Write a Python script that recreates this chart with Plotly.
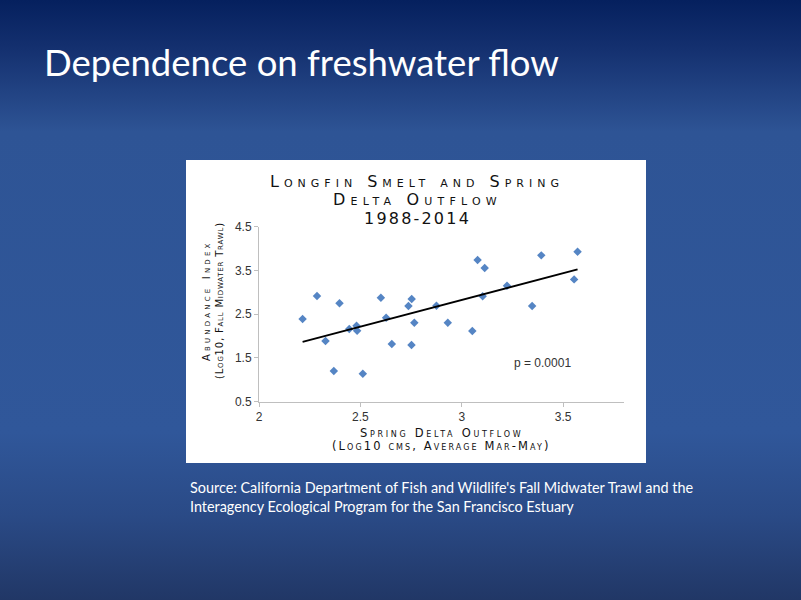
import base64
import numpy as np
import plotly.graph_objects as go

# spring delta outflow (log10 cms, mar-may) vs longfin smelt abundance (log10 FMWT), 1988-2014
outflow = [2.215, 2.286, 2.328, 2.369, 2.397, 2.445, 2.481, 2.484, 2.512, 2.601,
           2.627, 2.655, 2.737, 2.753, 2.752, 2.766, 2.875, 2.931, 3.052, 3.078,
           3.113, 3.103, 3.223, 3.347, 3.392, 3.554, 3.571]
abundance = [2.39, 2.915, 1.887, 1.20, 2.75, 2.161, 2.237, 2.123, 1.14, 2.877,
             2.42, 1.818, 2.687, 2.847, 1.795, 2.306, 2.694, 2.306, 2.115, 3.738,
             3.555, 2.908, 3.151, 2.687, 3.845, 3.296, 3.929]

x_ticks = [2, 2.5, 3, 3.5]
y_ticks = [0.5, 1.5, 2.5, 3.5, 4.5]

W, H = 801, 600


def px(v):
    return v / W


def py(v):
    return 1 - v / H


# linear trendline like the excel one
slope, intercept = np.polyfit(outflow, abundance, 1)
trend_x = [min(outflow), max(outflow)]
trend_y = [slope * v + intercept for v in trend_x]

# slide background gradient as an svg image
stops = [(0, "#05205e"), (0.08, "#14306f"), (0.22, "#2e5495"), (0.72, "#30579a"),
         (0.86, "#2a4a86"), (1, "#213766")]
stop_txt = "".join(f'<stop offset="{o}" stop-color="{c}"/>' for o, c in stops)
svg = (f'<svg xmlns="http://www.w3.org/2000/svg" width="{W}" height="{H}">'
       f'<defs><linearGradient id="g" x1="0" y1="0" x2="0" y2="1">{stop_txt}</linearGradient></defs>'
       f'<rect width="{W}" height="{H}" fill="url(#g)"/></svg>')
bg_src = "data:image/svg+xml;base64," + base64.b64encode(svg.encode()).decode()

fig = go.Figure()
fig.add_trace(go.Scatter(x=outflow, y=abundance, mode="markers",
                         marker=dict(symbol="diamond", size=6.5, color="#5585c4"),
                         hoverinfo="x+y"))
fig.add_trace(go.Scatter(x=trend_x, y=trend_y, mode="lines",
                         line=dict(color="black", width=2), hoverinfo="skip"))

axis_common = dict(showline=True, linecolor="#bfbfbf", linewidth=1, ticks="outside",
                   ticklen=4, tickcolor="#bfbfbf", showgrid=False, zeroline=False,
                   automargin=False,
                   tickfont=dict(family="Liberation Sans", size=12, color="#333333"))

fig.update_layout(
    width=W, height=H,
    margin=dict(l=0, r=0, t=0, b=0),
    paper_bgcolor="#2e5495",
    plot_bgcolor="rgba(0,0,0,0)",
    showlegend=False,
    xaxis=dict(range=[2, 3.8], tickvals=x_ticks, domain=[px(259), px(624)], **axis_common),
    yaxis=dict(range=[0.5, 4.5], tickvals=y_ticks, domain=[py(401.7), py(226.7)], **axis_common),
    images=[dict(source=bg_src, xref="paper", yref="paper", x=0, y=1, sizex=1, sizey=1,
                 xanchor="left", yanchor="top", sizing="stretch", layer="below")],
    shapes=[dict(type="rect", xref="paper", yref="paper", x0=px(186), x1=px(646),
                 y0=py(463), y1=py(160), fillcolor="white", line=dict(width=0), layer="below")],
)

caps = dict(family="DejaVu Sans", color="#111111", variant="small-caps")


def note(text, x, y, size, font=None, spacing=0, xanchor="center", yanchor="middle", **kw):
    f = dict(caps) if font is None else dict(font)
    f["size"] = size
    if spacing:
        text = f'<span style="letter-spacing:{spacing}px">{text}</span>'
    fig.add_annotation(text=text, xref="paper", yref="paper", x=px(x), y=py(y),
                       xanchor=xanchor, yanchor=yanchor, showarrow=False, font=f, **kw)


# slide title and source
white = dict(family="Lato", color="white")
note("Dependence on freshwater flow", 42, 62, 36.5, white, xanchor="left")
note("Source: California Department of Fish and Wildlife's Fall Midwater Trawl and the",
     188, 487, 14.4, white, xanchor="left")
note("Interagency Ecological Program for the San Francisco Estuary",
     188, 506, 14.4, white, xanchor="left")

# chart title
note("Longfin Smelt and Spring", 417, 181, 16, spacing=5)
note("Delta Outflow", 417, 199, 16, spacing=5.2)
note("1988-2014", 417, 218.5, 16, spacing=2.2)

# axis titles
note("Abundance Index", 206, 301, 10, spacing=3.2, textangle=-90)
note("(Log10, Fall Midwater Trawl)", 219, 301, 10, spacing=0.8, textangle=-90)
note("Spring Delta Outflow", 441, 432.5, 11.5, spacing=2.7)
note("(Log10 cms, Average Mar-May)", 441, 445.5, 11.5, spacing=2.1)

fig.add_annotation(text="p = 0.0001", x=3.397, y=1.38, xref="x", yref="y", showarrow=False,
                   font=dict(family="Liberation Sans", size=12, color="#333333"))

# drop the default body margin so the slide fills the window
fig.write_html("out.html", config={"displayModeBar": False},
               post_script="document.body.style.margin = '0';")
